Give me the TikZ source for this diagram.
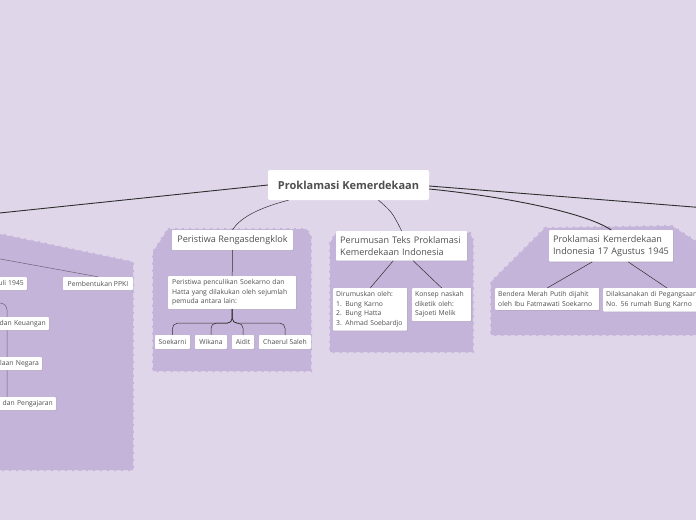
\documentclass[tikz,border=0pt]{standalone}
\usepackage{fontspec}
\setmainfont{Open Sans}
\usetikzlibrary{positioning,shadows,calc}
\definecolor{bgpurple}{HTML}{E0D6EA}
\definecolor{zonepurple}{HTML}{C5B4D9}
\definecolor{txtgray}{HTML}{4F4F4F}
\definecolor{linegray}{HTML}{2E2E2E}
\definecolor{leftgray}{HTML}{6E6278}
\tikzset{
  topic/.style={fill=white, text=txtgray, rounded corners=0.8pt, inner xsep=4pt, inner ysep=2pt, align=left,
    drop shadow={shadow xshift=0.6pt, shadow yshift=-0.6pt, opacity=0.3}},
  maintopic/.style={topic, font=\fontsize{9.1}{11.4}\selectfont, inner ysep=5.5pt},
  subtopic/.style={topic, font=\fontsize{6.8}{9.5}\selectfont, inner xsep=3pt, inner ysep=3.5pt},
  cuttopic/.style={subtopic, text width=90pt, align=right, anchor=east, minimum height=13pt, inner ysep=2pt},
  roottopic/.style={fill=white, text=txtgray, rounded corners=2pt, font=\fontsize{11}{13}\selectfont\bfseries,
    minimum width=161pt, minimum height=30pt},
  zone/.style={fill=zonepurple, draw=zonepurple, line width=2pt, dash pattern=on 2pt off 5pt},
  link/.style={draw=linegray, line width=0.5pt},
  rootlink/.style={draw=linegray, line width=0.9pt},
}
\begin{document}
\begin{tikzpicture}[x=1pt, y=-1pt]
    \clip (0,0) rectangle (696,520);
    \fill[bgpurple] (0,0) rectangle (696,520);

    % zones behind the groups
    \draw[zone] (-10,232) -- (133,262) -- (133,470) -- (-10,470) -- cycle;
    \draw[zone] (168,229) -- (306,229) -- (311,236) -- (311,371) -- (153,371) -- (153,252) -- cycle;
    \draw[zone] (336,233) -- (470,233) -- (473,240) -- (473,352) -- (330,352) -- (330,243) -- cycle;
    \draw[zone] (545,228) -- (672,226) -- (700,244) -- (700,335) -- (491,335) -- (491,282) -- cycle;

    \node[roottopic] at (348.5,185) (root){Proklamasi Kemerdekaan};

    % left group, mostly out of the page
    \coordinate (leftend) at (-10,214);
    \coordinate (bpupki) at (-60,248);
    \coordinate (lefthub) at (-20,303);
    \coordinate (leftbus) at (7,397);
    \node[subtopic, minimum width=70pt, minimum height=13pt, inner ysep=2pt] at (98,283.5)(ppki){Pembentukan PPKI};
    \node[cuttopic] at (27,283.5)(juli){Juli 1945};
    \draw[draw=leftgray, line width=0.5pt, rounded corners=7pt] (lefthub) -| (leftbus);
    \node[cuttopic] at (49,323.5)(keuangan){dan Keuangan};
    \node[cuttopic] at (42,363.5)(negara){Pembelaan Negara};
    \node[cuttopic] at (56,403.5)(pengajaran){dan Pengajaran};
    \draw[draw=leftgray, line width=0.5pt] (bpupki) -- (ppki.north);

    % Rengasdengklok
    \node[maintopic, minimum width=121pt, minimum height=20pt, inner ysep=3pt, align=center] at (232.5,240)(reng){Peristiwa Rengasdengklok};
    \node[subtopic, text width=120pt, inner xsep=4pt, anchor=north west] at (168,276)(culik){Peristiwa penculikan Soekarno dan\\Hatta yang dilakukan oleh sejumlah\\pemuda antara lain:};
    \node[subtopic, minimum width=35pt, minimum height=14pt, inner ysep=2pt] at (172.5,342)(soekarni){Soekarni};
    \node[subtopic, minimum width=32pt, minimum height=14pt, inner ysep=2pt] at (211,342)(wikana){Wikana};
    \node[subtopic, minimum width=22pt, minimum height=14pt, inner ysep=2pt] at (243,342)(aidit){Aidit};
    \node[subtopic, minimum width=52pt, minimum height=14pt, inner ysep=2pt] at (285,342)(chaerul){Chaerul Saleh};

    % Perumusan
    \node[maintopic, text width=123pt, inner xsep=4pt, anchor=north west] at (336,231)(rumus){Perumusan Teks Proklamasi\\Kemerdekaan Indonesia};
    \node[subtopic, text width=68pt, anchor=north west] at (333,288)(dirumus){Dirumuskan oleh:\\1. Bung Karno\\2. Bung Hatta\\3. Ahmad Soebardjo};
    \node[subtopic, text width=53pt, anchor=north west] at (412,288)(konsep){Konsep naskah\\diketik oleh:\\Sajoeti Melik};

    % 17 Agustus
    \node[maintopic, text width=116pt, anchor=north west] at (549,230)(prok){Proklamasi Kemerdekaan\\Indonesia 17 Agustus 1945};
    \node[subtopic, text width=98pt, anchor=north west] at (495,288)(bendera){Bendera Merah Putih dijahit\\oleh Ibu Fatmawati Soekarno};
    \node[subtopic, text width=110pt, anchor=north west] at (603,288)(pegangsaan){Dilaksanakan di Pegangsaan\\No. 56 rumah Bung Karno};
    \coordinate (rightend) at (706,208);

    \draw[rootlink] (root.west) -- (leftend);
    \draw[rootlink] ([yshift=-1pt]root.east) -- (rightend);
    \draw[link] ([xshift=-60pt]root.south) .. controls (258,208) and (240,218) .. (reng.north);
    \draw[link] ([xshift=30pt]root.south) .. controls (392,212) .. (rumus.north);
    \draw[rootlink] ([yshift=-4pt]root.east) .. controls (500,196) and (585,212) .. (prok.north);

    \draw[link] (reng.south) -- (culik.north);
    \foreach \kid in {soekarni,wikana,aidit,chaerul}
        \draw[link, rounded corners=5pt] (culik.south) -- ++(0,14) -| (\kid.north);
    \draw[link] ([xshift=-8.5pt]rumus.south) -- (dirumus.north);
    \draw[link] ([xshift=11.5pt]rumus.south) -- (konsep.north);
    \draw[link] ([xshift=-19pt]prok.south) -- (bendera.north);
    \draw[link] ([xshift=17pt]prok.south) -- ([xshift=64pt]pegangsaan.north west);
\end{tikzpicture}
\end{document}
